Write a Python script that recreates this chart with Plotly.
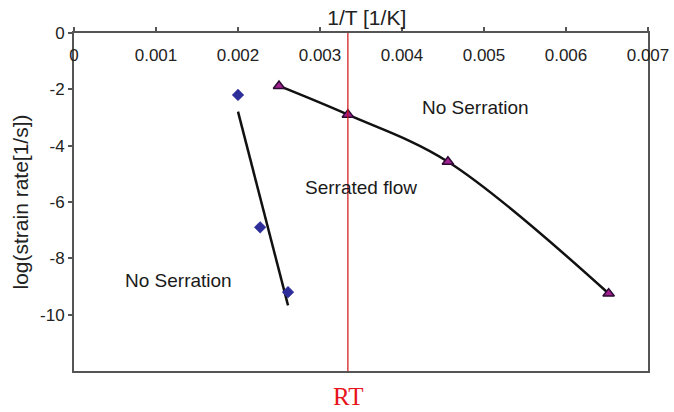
import numpy as np
import plotly.graph_objects as go

# Low-temperature branch (diamonds) and its linear trendline
diamond_inv_t = [0.00200, 0.00227, 0.00261]
diamond_log_rate = [-2.2, -6.9, -9.2]

# High-temperature branch (triangles) joined by a smooth curve
triangle_inv_t = [0.00250, 0.00334, 0.00456, 0.00652]
triangle_log_rate = [-1.88, -2.9, -4.57, -9.25]

# Room temperature marker
rt_inv_t = 0.00334

x_ticks = [0, 0.001, 0.002, 0.003, 0.004, 0.005, 0.006, 0.007]
x_tick_text = ["0", "0.001", "0.002", "0.003", "0.004", "0.005", "0.006", "0.007"]
y_ticks = [0, -2, -4, -6, -8, -10]
y_tick_text = ["0", "-2", "-4", "-6", "-8", "-10"]

# least-squares line through the diamond points
slope, intercept = np.polyfit(diamond_inv_t, diamond_log_rate, 1)
fit_x = np.array([min(diamond_inv_t), max(diamond_inv_t)])
fit_y = slope * fit_x + intercept

fig = go.Figure()

fig.add_trace(go.Scatter(
    x=fit_x, y=fit_y, mode="lines",
    line=dict(color="#111111", width=2.5), hoverinfo="skip", showlegend=False,
))
fig.add_trace(go.Scatter(
    x=diamond_inv_t, y=diamond_log_rate, mode="markers",
    marker=dict(symbol="diamond", size=9, color="#2E2E9A",
                line=dict(color="#2E2E9A", width=0.5)),
    showlegend=False,
))
fig.add_trace(go.Scatter(
    x=triangle_inv_t, y=triangle_log_rate, mode="lines",
    line=dict(color="#111111", width=2.5, shape="spline", smoothing=1.0),
    hoverinfo="skip", showlegend=False,
))
fig.add_trace(go.Scatter(
    x=triangle_inv_t, y=triangle_log_rate, mode="markers",
    marker=dict(symbol="triangle-up", size=10, color="#A0208F",
                line=dict(color="#2A0A30", width=1.4)),
    showlegend=False,
))

# Room temperature vertical line
fig.add_shape(type="line", x0=rt_inv_t, x1=rt_inv_t, y0=0, y1=-12.2,
              xref="x", yref="y", line=dict(color="#D01010", width=1.2),
              layer="above")

sans = "Liberation Sans, Arial, sans-serif"
text_font = dict(family=sans, size=19, color="#1a1a1a")
fig.add_annotation(x=0.00490, y=-2.65, text="No Serration", showarrow=False, font=text_font)
fig.add_annotation(x=0.00350, y=-5.5, text="Serrated flow", showarrow=False, font=text_font)
fig.add_annotation(x=0.00127, y=-8.8, text="No Serration", showarrow=False, font=text_font)
fig.add_annotation(x=rt_inv_t, y=-12, yshift=-25, text="RT", showarrow=False,
                   font=dict(family="Liberation Serif, DejaVu Serif, serif", size=25, color="#E8141B"))

axis_color = "#555555"
tick_font = dict(family=sans, size=17, color="#222222")

fig.update_layout(
    width=674, height=412,
    margin=dict(l=74, r=26, t=33, b=41),
    plot_bgcolor="white", paper_bgcolor="white",
    # horizontal axis title sits above the top axis line
    title=dict(text="1/T [1/K]", font=dict(family=sans, size=21, color="#222222"),
               xref="paper", x=0.51, xanchor="center",
               yref="container", y=1 - 18 / 412, yanchor="middle"),
    xaxis=dict(
        range=[0, 0.007], side="top", automargin=False,
        tickvals=x_ticks, ticktext=x_tick_text,
        ticks="outside", ticklen=4, tickcolor=axis_color, tickwidth=1.5,
        ticklabelposition="inside", ticklabeloverflow="allow", ticklabelstandoff=17,
        tickfont=tick_font,
        showline=True, linecolor=axis_color, linewidth=2, mirror=True,
        showgrid=False, zeroline=False,
    ),
    yaxis=dict(
        range=[-12, 0], automargin=False,
        tickvals=y_ticks, ticktext=y_tick_text,
        ticks="outside", ticklen=4, tickcolor=axis_color, tickwidth=1.5,
        ticklabeloverflow="allow",
        tickfont=tick_font,
        showline=True, linecolor=axis_color, linewidth=2, mirror=True,
        showgrid=False, zeroline=False,
        title=dict(text="log(strain rate[1/s])", font=dict(family=sans, size=21, color="#222222"),
                   standoff=6),
    ),
)

fig.write_html("out.html")
